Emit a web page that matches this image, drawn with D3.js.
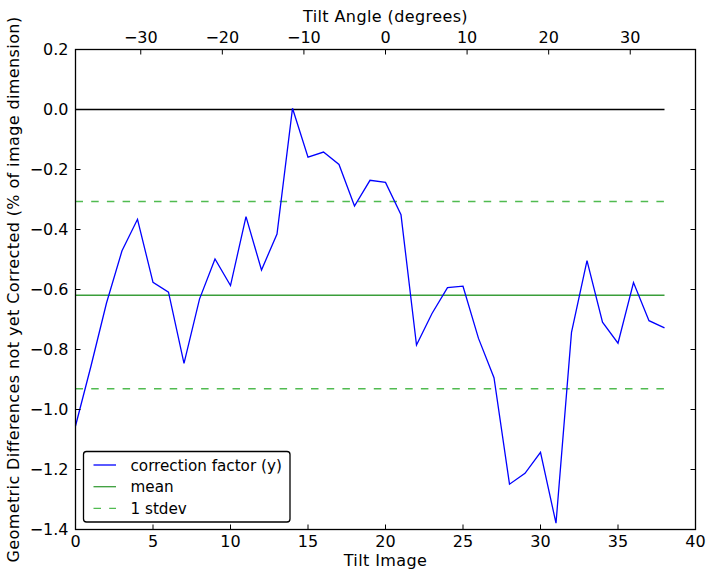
<!DOCTYPE html>
<html><head><meta charset="utf-8">
<script src="https://cdn.jsdelivr.net/npm/d3@7"></script>
<style>body{margin:0;background:#fff;} text{font-family:"DejaVu Sans",sans-serif;}</style>
</head><body><svg id="c" width="714" height="579"></svg>
<script>
const tiltImage = d3.range(0, 39);
const correction = [-1.055,-0.855,-0.645,-0.471,-0.366,-0.576,-0.609,-0.846,-0.632,-0.498,
 -0.587,-0.357,-0.535,-0.415,0.004,-0.159,-0.142,-0.183,-0.322,-0.236,
 -0.243,-0.351,-0.785,-0.680,-0.594,-0.589,-0.763,-0.894,-1.249,-1.213,
 -1.143,-1.379,-0.743,-0.504,-0.709,-0.779,-0.577,-0.704,-0.728];
const meanValue = -0.619;
const stdevValue = 0.312;
const xTicks = [0,5,10,15,20,25,30,35,40];
const yTicks = [0.2,0.0,-0.2,-0.4,-0.6,-0.8,-1.0,-1.2,-1.4];
const angleTicks = [-30,-20,-10,0,10,20,30];
const angleRange = [-38, 38];
const legendLabels = ["correction factor (y)", "mean", "1 stdev"];

const L=75.5, R=695.5, T=49.5, B=529.5;
const svg = d3.select("#c");
const x = d3.scaleLinear().domain([0,40]).range([L,R]);
const y = d3.scaleLinear().domain([-1.4,0.2]).range([B,T]);
const xa = d3.scaleLinear().domain(angleRange).range([L,R]);
const fmtY = v => (v<0?"\u2212":"") + Math.abs(v).toFixed(1);
const fmtA = v => (v<0?"\u2212":"") + Math.abs(v);
const FS = "16px";
const meanColor = "#3a9e3a", sdColor = "#50bb50";
const dash = "7.5,8.2";

const xEnd = tiltImage[tiltImage.length-1];
function hline(v, color, w, d){
  svg.append("line").attr("x1",x(0)).attr("x2",x(xEnd)).attr("y1",y(v)).attr("y2",y(v))
    .attr("stroke",color).attr("stroke-width",w).attr("stroke-dasharray",d||null);
}
hline(0,"#000",1.6);
hline(meanValue,meanColor,1.4);
hline(meanValue+stdevValue,sdColor,1.5,dash);
hline(meanValue-stdevValue,sdColor,1.5,dash);

svg.append("path").datum(tiltImage.map((d,i)=>[d,correction[i]]))
  .attr("d", d3.line().x(d=>x(d[0])).y(d=>y(d[1])))
  .attr("fill","none").attr("stroke","#0000ff").attr("stroke-width",1.3).attr("stroke-linejoin","miter");

svg.append("rect").attr("x",L).attr("y",T).attr("width",R-L).attr("height",B-T)
  .attr("fill","none").attr("stroke","#000").attr("stroke-width",1.3);

const tl = 5;
xTicks.forEach(t=>{
  svg.append("line").attr("x1",x(t)).attr("x2",x(t)).attr("y1",B).attr("y2",B-tl).attr("stroke","#000");
  svg.append("text").attr("x",x(t)).attr("y",B+17).attr("text-anchor","middle").attr("font-size",FS).text(t);
});
yTicks.forEach(t=>{
  svg.append("line").attr("x1",L).attr("x2",L+tl).attr("y1",y(t)).attr("y2",y(t)).attr("stroke","#000");
  svg.append("line").attr("x1",R).attr("x2",R-tl).attr("y1",y(t)).attr("y2",y(t)).attr("stroke","#000");
  svg.append("text").attr("x",L-7).attr("y",y(t)+5.8).attr("text-anchor","end").attr("font-size",FS).text(fmtY(t));
});
angleTicks.forEach(t=>{
  svg.append("line").attr("x1",xa(t)).attr("x2",xa(t)).attr("y1",T).attr("y2",T+tl).attr("stroke","#000");
  svg.append("text").attr("x",xa(t)).attr("y",T-6.5).attr("text-anchor","middle").attr("font-size",FS).text(fmtA(t));
});

const LS = "0.4px";
svg.append("text").attr("x",(L+R)/2).attr("y",566).attr("text-anchor","middle").attr("font-size",FS).attr("letter-spacing",LS).text("Tilt Image");
svg.append("text").attr("x",(L+R)/2).attr("y",22).attr("text-anchor","middle").attr("font-size",FS).attr("letter-spacing",LS).text("Tilt Angle (degrees)");
svg.append("text").attr("transform",`translate(19,${(T+B)/2}) rotate(-90)`).attr("text-anchor","middle").attr("font-size",FS).attr("letter-spacing",LS)
  .text("Geometric Differences not yet Corrected (% of image dimension)");

const lg = svg.append("g");
lg.append("rect").attr("x",83.5).attr("y",451.5).attr("width",206.5).attr("height",70.5).attr("rx",3)
  .attr("fill","#fff").attr("stroke","#000").attr("stroke-width",1.3);
const styles = [["#0000ff",null],[meanColor,null],[sdColor,dash]];
legendLabels.forEach((lab,i)=>{
  const yy = 465 + i*21.7;
  lg.append("line").attr("x1",93.5).attr("x2",116).attr("y1",yy).attr("y2",yy)
    .attr("stroke",styles[i][0]).attr("stroke-width",1.3).attr("stroke-dasharray",styles[i][1]);
  lg.append("text").attr("x",130.5).attr("y",yy+5.5).attr("font-size","15.2px").text(lab);
});
</script></body></html>
